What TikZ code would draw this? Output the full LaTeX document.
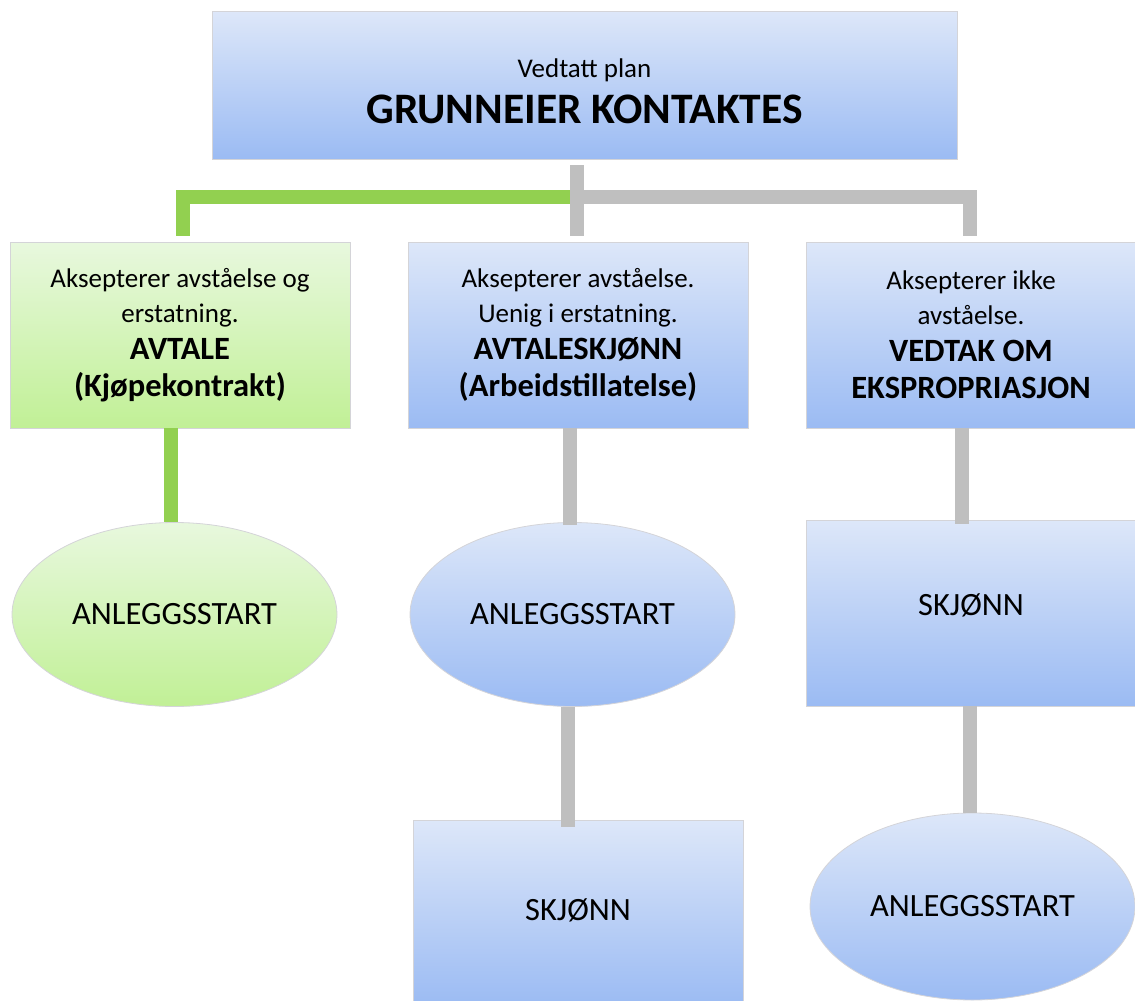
\documentclass[tikz,border=0pt]{standalone}
\usepackage{fontspec}
\setmainfont{Carlito}
\usetikzlibrary{shapes.geometric}
\definecolor{bluetop}{RGB}{221,231,249}
\definecolor{bluebot}{RGB}{155,187,243}
\definecolor{greentop}{RGB}{232,248,222}
\definecolor{greenbot}{RGB}{193,240,150}
\definecolor{edgegray}{RGB}{212,212,216}
\definecolor{linegray}{RGB}{191,191,191}
\definecolor{linegreen}{RGB}{146,208,80}
\newcommand{\bigb}{\fontsize{32.5}{37}\selectfont\bfseries}
\tikzset{
  box/.style={rectangle, draw=edgegray, line width=0.8pt, inner sep=0pt, align=center, text=black},
  bluebox/.style={box, top color=bluetop, bottom color=bluebot},
  greenbox/.style={box, top color=greentop, bottom color=greenbot},
  rowbox/.style={minimum width=340pt, minimum height=186pt, font=\fontsize{27}{35}\selectfont},
  oval/.style={ellipse, draw=edgegray, line width=0.8pt, inner sep=0pt, align=center, minimum width=325pt, minimum height=184pt, font=\fontsize{32.5}{37}\selectfont},
  blueoval/.style={oval, top color=bluetop, bottom color=bluebot},
  greenoval/.style={oval, top color=greentop, bottom color=greenbot},
  grayconn/.style={draw=linegray, line width=14pt, line cap=butt, line join=miter},
  greenconn/.style={draw=linegreen, line width=14pt, line cap=butt, line join=miter},
}
\begin{document}
\begin{tikzpicture}[x=1pt,y=-1pt]
\useasboundingbox (0,0) rectangle (1135,1001);
% nodes
\node[bluebox, minimum width=745pt, minimum height=148pt, font=\fontsize{27}{42}\selectfont] (top) at (584.5,85)
  {\rule{0pt}{32pt}Vedtatt plan\\[4pt] \fontsize{43.5}{44}\selectfont\bfseries GRUNNEIER KONTAKTES};
\node[greenbox, rowbox] (b1) at (180,335)
  {Aksepterer avståelse og\\ erstatning.\\[2pt] \bigb AVTALE\\[2pt] \bigb (Kjøpekontrakt)};
\node[bluebox, rowbox] (b2) at (578,335)
  {Aksepterer avståelse.\\ Uenig i erstatning.\\[2pt] \bigb AVTALESKJØNN\\[2pt] \bigb (Arbeidstillatelse)};
\node[bluebox, rowbox, minimum width=330pt] (b3) at (971,335)
  {Aksepterer ikke\\ avståelse.\\[2pt] \bigb VEDTAK OM\\[2pt] \bigb EKSPROPRIASJON};
\node[greenoval] (e1) at (174.5,614.5) {ANLEGGSSTART};
\node[blueoval] (e2) at (572.5,614.5) {ANLEGGSSTART};
\node[bluebox, minimum width=330pt, minimum height=186pt, font=\fontsize{32.5}{37}\selectfont] (s3) at (971,613) {SKJØNN\rule[-17pt]{0pt}{17pt}};
\node[bluebox, minimum width=330pt, minimum height=186pt, font=\fontsize{32.5}{37}\selectfont] (s2) at (578,913) {SKJØNN\rule[-6pt]{0pt}{6pt}};
\node[blueoval, minimum height=187pt] (e3) at (972.5,906.5) {ANLEGGSSTART};
% junction coordinates
\coordinate (j) at (577,197);
% connectors
\draw[greenconn] (j) -| ([xshift=3pt,yshift=6pt]b1.north);
\draw[grayconn] (j) -| ([xshift=-1pt,yshift=6pt]b3.north);
\draw[grayconn] ([xshift=-7.5pt,yshift=-6pt]top.south) -- ([xshift=-1pt,yshift=6pt]b2.north);
\draw[greenconn] ([xshift=-9pt]b1.south) -- ([xshift=-3.5pt]e1.north);
\draw[grayconn] ([xshift=-8pt]b2.south) -- ([xshift=-2.5pt,yshift=-3pt]e2.north);
\draw[grayconn] ([xshift=-4.5pt]e2.south) -- ([xshift=-10pt,yshift=-7pt]s2.north);
\draw[grayconn] ([xshift=-9pt]b3.south) -- ([xshift=-9pt,yshift=-4pt]s3.north);
\draw[grayconn] ([xshift=-1pt]s3.south) -- ([xshift=-2.5pt]e3.north);
\end{tikzpicture}
\end{document}
